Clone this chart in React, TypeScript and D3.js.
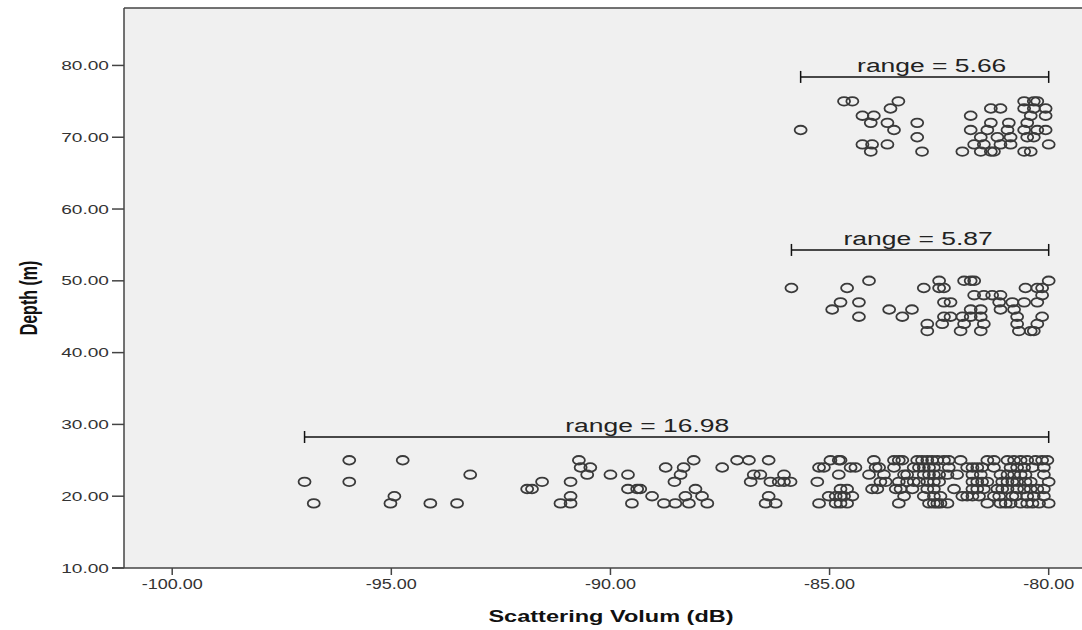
import React from "react";
import * as d3 from "d3";

// depth rows (m) and the Sv readings (dB) on each row
const shallowDepths = [25, 24, 23, 22, 21, 20, 19];
const shallowSv = [
  [-95.96, -94.74, -90.72, -88.10, -87.11, -86.84, -86.39, -84.98, -84.79, -84.75, -83.99, -83.53, -83.42, -83.34, -83.00, -82.89, -82.77, -82.66, -82.54, -82.39, -82.28, -82.01, -81.40, -81.25, -80.94, -80.79, -80.64, -80.49, -80.30, -80.15, -80.03],
  [-90.68, -90.46, -88.74, -88.33, -87.45, -85.24, -85.13, -84.52, -84.41, -83.95, -83.87, -83.53, -83.08, -82.96, -82.85, -82.73, -82.62, -82.28, -81.86, -81.74, -81.63, -81.52, -81.25, -80.87, -80.72, -80.56, -80.37, -80.11],
  [-93.20, -90.53, -90.00, -89.60, -88.40, -86.73, -86.58, -86.04, -84.79, -84.10, -83.76, -83.30, -83.23, -82.85, -82.73, -82.62, -82.50, -82.31, -82.09, -81.74, -81.55, -81.10, -80.94, -80.79, -80.64, -80.53, -80.11],
  [-96.98, -95.96, -91.56, -90.91, -88.54, -86.80, -86.35, -86.16, -86.04, -85.89, -85.28, -83.84, -83.72, -83.42, -83.23, -83.08, -82.96, -82.77, -82.62, -82.50, -81.74, -81.63, -81.52, -81.40, -81.06, -80.94, -80.83, -80.72, -80.53, -80.41, -80.00],
  [-91.90, -91.79, -89.60, -89.39, -89.32, -88.06, -84.75, -84.60, -84.03, -83.91, -83.49, -83.38, -83.11, -82.77, -82.62, -82.16, -81.74, -81.63, -81.48, -81.17, -81.06, -80.94, -80.72, -80.56, -80.41, -80.26, -80.11],
  [-94.93, -90.91, -89.05, -88.29, -87.91, -86.39, -85.02, -84.86, -84.75, -84.67, -84.48, -83.30, -82.85, -82.62, -82.47, -81.97, -81.86, -81.74, -81.59, -81.25, -81.13, -80.83, -80.75, -80.49, -80.34, -80.11],
  [-96.77, -95.02, -94.11, -93.50, -91.14, -90.91, -89.51, -88.78, -88.52, -88.21, -87.79, -86.46, -86.23, -85.24, -84.86, -84.75, -84.60, -83.42, -82.73, -82.62, -82.54, -82.47, -82.31, -81.40, -81.10, -80.98, -80.87, -80.64, -80.49, -80.37, -80.22, -80.00],
];

const middleDepths = [50, 49, 48, 47, 46, 45, 44, 43];
const middleSv = [
  [-84.10, -82.50, -81.93, -81.78, -81.70, -80.00],
  [-85.87, -84.60, -82.85, -82.50, -82.39, -80.53, -80.26, -80.15],
  [-81.70, -81.48, -81.29, -81.10, -80.15],
  [-84.75, -84.33, -82.39, -82.24, -81.13, -80.83, -80.56, -80.26],
  [-84.94, -83.64, -83.12, -81.78, -81.55, -81.10, -80.79],
  [-84.33, -83.34, -82.39, -82.24, -81.97, -81.78, -81.55, -80.72, -80.15],
  [-82.77, -82.43, -81.93, -81.48, -80.72, -80.26],
  [-82.77, -82.01, -81.55, -80.68, -80.41, -80.34],
];

const deepDepths = [75, 74, 73, 72, 71, 70, 69, 68];
const deepSv = [
  [-84.67, -84.48, -83.43, -80.56, -80.34, -80.26],
  [-83.61, -81.32, -81.10, -80.56, -80.34, -80.07],
  [-84.25, -83.99, -81.78, -80.41, -80.07],
  [-84.06, -83.68, -83.00, -81.32, -80.91, -80.49],
  [-85.66, -83.53, -81.78, -81.40, -80.94, -80.56, -80.26, -80.07],
  [-83.00, -81.55, -81.17, -80.87, -80.49, -80.34],
  [-84.25, -84.03, -83.68, -81.70, -81.48, -81.10, -80.87, -80.00],
  [-84.06, -82.89, -81.97, -81.55, -81.32, -81.25, -80.56, -80.41],
];

// range annotations
const rangeLabels = ["range = 5.66", "range = 5.87", "range = 16.98"];
const rangeMin = [-85.66, -85.87, -96.98];
const rangeMax = [-80, -80, -80];
const rangeDepth = [78.4, 54.3, 28.25];
const rangeLabelSv = [-82.67, -82.98, -89.16];

const xTicks = [-100, -95, -90, -85, -80];
const yTicks = [10, 20, 30, 40, 50, 60, 70, 80];

const W = 1082;
const H = 630;
const SX = 1.47; // horizontal stretch of the original picture

function rowsToPoints(depths: number[], sv: number[][]) {
  const pts: { sv: number; depth: number }[] = [];
  depths.forEach((d, i) => sv[i].forEach((v) => pts.push({ sv: v, depth: d })));
  return pts;
}

export default function App() {
  const x = d3.scaleLinear().domain([-101.1, -79.24]).range([124, 1082]);
  const y = d3.scaleLinear().domain([10, 88]).range([568, 8]);
  const fmt = (v: number) => d3.format(".2f")(v).replace("\u2212", "-");

  const points = [
    ...rowsToPoints(shallowDepths, shallowSv),
    ...rowsToPoints(middleDepths, middleSv),
    ...rowsToPoints(deepDepths, deepSv),
  ];

  const font = "'Liberation Sans', Arial, sans-serif";

  return (
    <svg width={W} height={H} style={{ position: "absolute", left: 0, top: 0, background: "#fff" }}>
      {/* plot area */}
      <rect x={x.range()[0]} y={y.range()[1]} width={x.range()[1] - x.range()[0]} height={y.range()[0] - y.range()[1]} fill="#f0f0f0" />
      <line x1={x.range()[0]} x2={x.range()[1]} y1={y.range()[1]} y2={y.range()[1]} stroke="#444" strokeWidth={1.5} />
      <line x1={x.range()[0]} x2={x.range()[0]} y1={y.range()[1]} y2={y.range()[0]} stroke="#444" strokeWidth={1.5} />
      <line x1={x.range()[0] - 12} x2={x.range()[1]} y1={y.range()[0]} y2={y.range()[0]} stroke="#444" strokeWidth={1.5} />

      {/* y axis */}
      {yTicks.map((t) => (
        <g key={"y" + t}>
          <line x1={112} x2={124} y1={y(t)} y2={y(t)} stroke="#444" strokeWidth={1.5} />
          <text transform={`translate(109,${y(t)}) scale(${SX},1)`} dy="0.35em" textAnchor="end"
            fontFamily={font} fontSize={13} fill="#333">{fmt(t)}</text>
        </g>
      ))}

      {/* x axis */}
      {xTicks.map((t) => (
        <g key={"x" + t}>
          <line x1={x(t)} x2={x(t)} y1={568} y2={575} stroke="#444" strokeWidth={1.5} />
          <text transform={`translate(${x(t)},589) scale(1.2,1)`} textAnchor="middle"
            fontFamily={font} fontSize={15} fill="#333">{fmt(t)}</text>
        </g>
      ))}

      {/* points */}
      {points.map((p, i) => (
        <ellipse key={i} cx={x(p.sv)} cy={y(p.depth)} rx={6} ry={4.3} fill="none" stroke="#3a3a3a" strokeWidth={1.8} />
      ))}

      {/* range brackets */}
      {rangeLabels.map((lab, i) => {
        const yy = y(rangeDepth[i]);
        return (
          <g key={lab}>
            <line x1={x(rangeMin[i])} x2={x(rangeMax[i])} y1={yy} y2={yy} stroke="#111" strokeWidth={1.5} />
            <line x1={x(rangeMin[i])} x2={x(rangeMin[i])} y1={yy - 6} y2={yy + 6} stroke="#111" strokeWidth={1.5} />
            <line x1={x(rangeMax[i])} x2={x(rangeMax[i])} y1={yy - 6} y2={yy + 6} stroke="#111" strokeWidth={1.5} />
            <text transform={`translate(${x(rangeLabelSv[i])},${yy - 5}) scale(${SX},1)`} textAnchor="middle"
              fontFamily={font} fontSize={18} fill="#222">{lab}</text>
          </g>
        );
      })}

      {/* axis titles */}
      <text transform={`translate(611,622) scale(${SX},1)`} textAnchor="middle" fontFamily={font}
        fontWeight="bold" fontSize={16} fill="#111">Scattering Volum (dB)</text>
      <text transform={`translate(37,298) scale(${SX},1) rotate(-90)`} textAnchor="middle" fontFamily={font}
        fontWeight="bold" fontSize={16} fill="#111">Depth (m)</text>
    </svg>
  );
}
